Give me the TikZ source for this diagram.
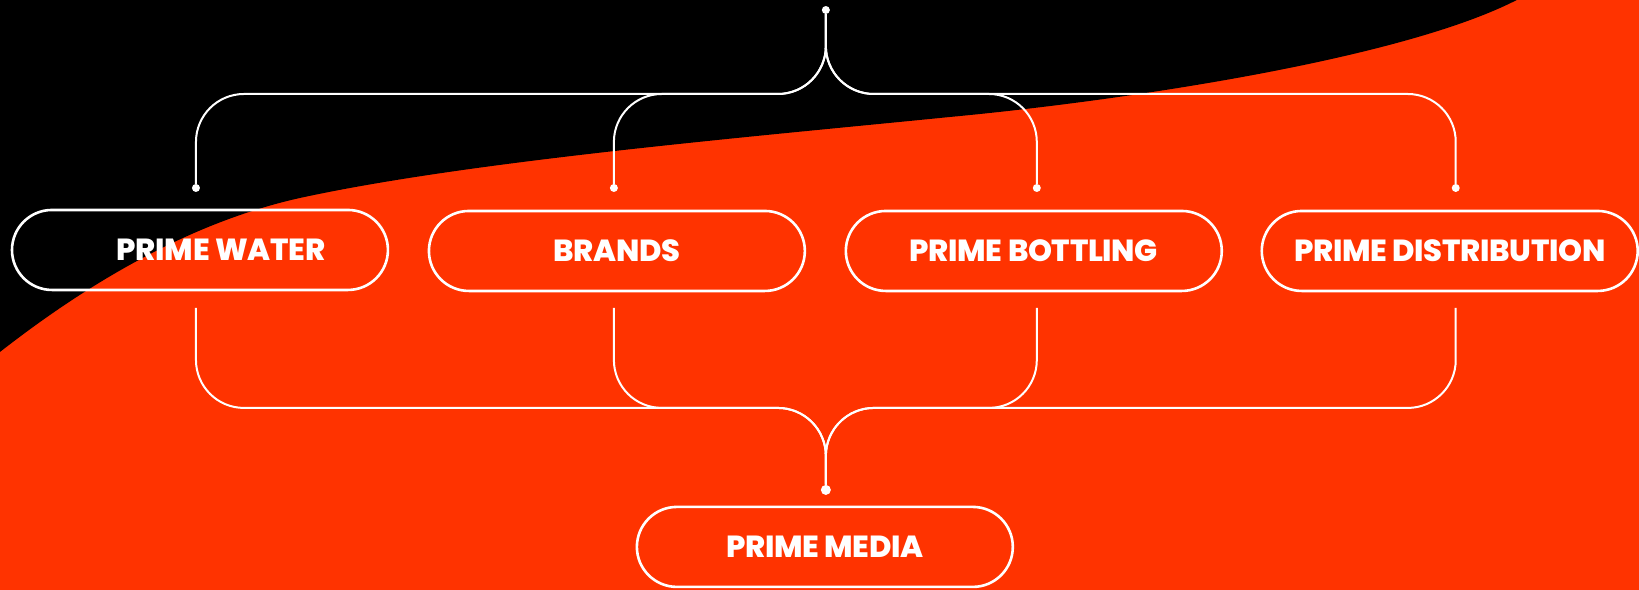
\documentclass[tikz,border=0pt]{standalone}
\usepackage{fontspec}
\setmainfont{Poppins}
\newfontfamily\unitfont{Poppins ExtraBold}[LetterSpace=-1]
\usepackage{tikz}
\usetikzlibrary{positioning}
\definecolor{primered}{RGB}{255,51,0}

\begin{document}
\begin{tikzpicture}[x=1pt, y=-1pt,
    unit/.style={rectangle, draw=white, line width=2.6pt, rounded corners=40pt, minimum width=376pt, minimum height=80pt, inner sep=0pt, text=white, font=\unitfont\fontsize{30.5}{30.5}\selectfont},
    link/.style={draw=white, line width=2pt, rounded corners=48pt},
    dot/.style={circle, fill=white, inner sep=0pt, minimum size=8pt},
    bigdot/.style={circle, fill=white, inner sep=0pt, minimum size=10pt}
]

% Background with black swoosh top left
\fill[primered] (0,0) rectangle (1639,590);
\fill[black] (0,0) -- (0,352) .. controls (110,266) and (210,218) .. (300,198)
    .. controls (470,161) and (750,137) .. (950,117)
    .. controls (1120,101) and (1400,60) .. (1517,0) -- cycle;

% Units
\node[unit] (water) at (200,250) {\hspace*{42pt}PRIME WATER};
\node[unit] (brands) at (617,251) {BRANDS};
\node[unit] (bottling) at (1034,251) {PRIME BOTTLING};
\node[unit] (distribution) at (1450,251) {PRIME DISTRIBUTION};
\node[unit] (media) at (825,547) {PRIME MEDIA};

% Dots
\node[dot] (top) at (826,10) {};
\node[dot] (waterin) at (196,188) {};
\node[dot] (brandsin) at (614,188) {};
\node[dot] (bottlingin) at (1037,188) {};
\node[dot] (distributionin) at (1456,188) {};
\node[bigdot] (mediain) at (826,490) {};

% Bus lines and free ends under the units
\coordinate (topbus) at (826,94);
\coordinate (lowbus) at (826,408);
\coordinate (waterout) at (196,308);
\coordinate (brandsout) at (614,308);
\coordinate (bottlingout) at (1037,308);
\coordinate (distributionout) at (1456,308);

% Top tree
\draw[link] (top) -- (topbus) -- (waterin |- topbus) -- (waterin);
\draw[link] (top) -- (topbus) -- (brandsin |- topbus) -- (brandsin);
\draw[link] (top) -- (topbus) -- (bottlingin |- topbus) -- (bottlingin);
\draw[link] (top) -- (topbus) -- (distributionin |- topbus) -- (distributionin);

% Bottom tree
\draw[link] (waterout) -- (waterout |- lowbus) -- (lowbus) -- (mediain);
\draw[link] (brandsout) -- (brandsout |- lowbus) -- (lowbus) -- (mediain);
\draw[link] (bottlingout) -- (bottlingout |- lowbus) -- (lowbus) -- (mediain);
\draw[link] (distributionout) -- (distributionout |- lowbus) -- (lowbus) -- (mediain);

\end{tikzpicture}
\end{document}
